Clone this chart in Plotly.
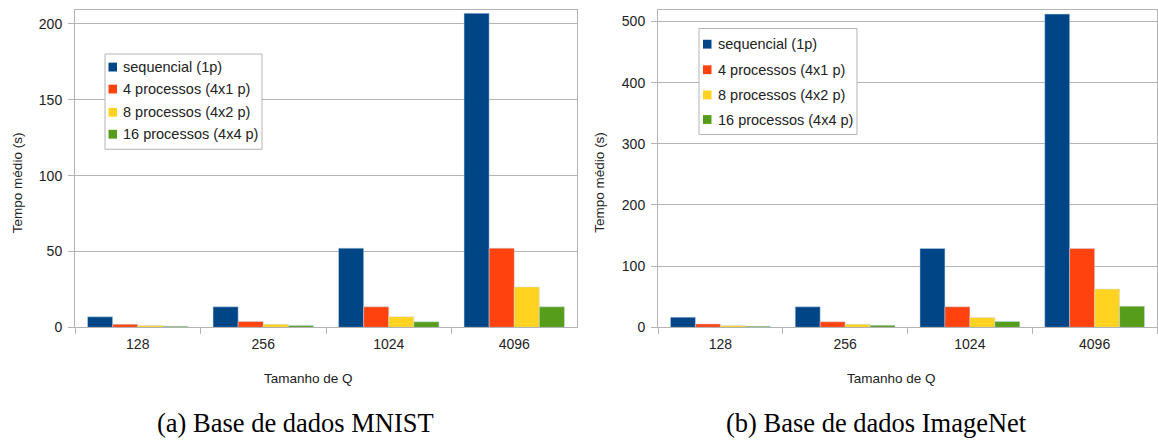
import plotly.graph_objects as go

W, H = 1158, 446

categories = ["128", "256", "1024", "4096"]
series_names = ["sequencial (1p)", "4 processos (4x1 p)", "8 processos (4x2 p)", "16 processos (4x4 p)"]
colors = ["#004586", "#ff420e", "#ffd320", "#579d1c"]

mnist_seq = [6.9, 13.5, 52.2, 207.0]
mnist_4p = [2.0, 3.8, 13.5, 52.2]
mnist_8p = [1.2, 2.0, 7.0, 26.6]
mnist_16p = [0.7, 1.2, 3.6, 13.5]

imagenet_seq = [16.5, 33.5, 129.0, 512.0]
imagenet_4p = [5.5, 9.0, 33.5, 129.0]
imagenet_8p = [2.8, 5.0, 16.0, 62.5]
imagenet_16p = [1.8, 3.2, 9.5, 34.5]

mnist = [mnist_seq, mnist_4p, mnist_8p, mnist_16p]
imagenet = [imagenet_seq, imagenet_4p, imagenet_8p, imagenet_16p]

FONT = "Liberation Sans, Arial, sans-serif"
SERIF = "Liberation Serif, Times New Roman, serif"
TXT = "#222222"
GRID = "#b3b3b3"


def px(x):
    return x / W


def py(y):
    return 1 - y / H


fig = go.Figure()
for i, name in enumerate(series_names):
    fig.add_trace(go.Bar(
        x=categories, y=mnist[i], name=name, marker_color=colors[i],
        marker_line=dict(color="rgba(200,220,240,0.8)", width=0.6),
        xaxis="x", yaxis="y", showlegend=False,
    ))
for i, name in enumerate(series_names):
    fig.add_trace(go.Bar(
        x=categories, y=imagenet[i], name=name, marker_color=colors[i],
        marker_line=dict(color="rgba(200,220,240,0.8)", width=0.6),
        xaxis="x2", yaxis="y2", showlegend=False,
    ))

ybot, ytop = 333.3, 10
xax = dict(type="category", tickson="boundaries", ticks="outside", ticklen=6,
           tickcolor=GRID, showline=True, linecolor=GRID, mirror=True,
           showgrid=False, ticklabelstandoff=4,
           tickfont=dict(family=FONT, size=14, color=TXT))
yax = dict(ticks="outside", ticklen=6, tickcolor=GRID, showline=True,
           linecolor=GRID, mirror=True, showgrid=True, gridcolor=GRID,
           zeroline=False, ticklabelstandoff=3,
           tickfont=dict(family=FONT, size=14, color=TXT))

fig.update_layout(
    width=W, height=H,
    margin=dict(l=0, r=0, t=0, b=0),
    paper_bgcolor="white", plot_bgcolor="white",
    barmode="group", bargap=0.2, bargroupgap=0,
    font=dict(family=FONT, size=13, color=TXT),
    xaxis=dict(xax, domain=[px(75), px(577)], anchor="y"),
    yaxis=dict(yax, domain=[py(ybot), py(ytop)], anchor="x",
               range=[0, 209.3], tickvals=[0, 50, 100, 150, 200]),
    xaxis2=dict(xax, domain=[px(658), px(1157)], anchor="y2"),
    yaxis2=dict(yax, domain=[py(ybot), py(ytop)], anchor="x2",
                range=[0, 519], tickvals=[0, 100, 200, 300, 400, 500]),
)

# custom legends (box, colour squares, labels)
legends = [
    dict(box=(105, 55, 262, 152), rows=[68.3, 90.7, 114.3, 136.7], sq=108.5, tx=121),
    dict(box=(699, 29, 857, 137), rows=[45, 71, 96.7, 121.7], sq=703, tx=715.5),
]
for lg in legends:
    x0, y0, x1, y1 = lg["box"]
    fig.add_shape(type="rect", xref="paper", yref="paper",
                  x0=px(x0), x1=px(x1), y0=py(y1), y1=py(y0),
                  line=dict(color=GRID, width=1), fillcolor="white", layer="above")
    for i, name in enumerate(series_names):
        yc = lg["rows"][i]
        fig.add_shape(type="rect", xref="paper", yref="paper",
                      x0=px(lg["sq"]), x1=px(lg["sq"] + 8.5),
                      y0=py(yc + 4.5), y1=py(yc - 4.5),
                      line=dict(width=0), fillcolor=colors[i], layer="above")
        fig.add_annotation(text=name, x=px(lg["tx"]), y=py(yc), xref="paper", yref="paper",
                           xanchor="left", yanchor="middle", showarrow=False,
                           font=dict(family=FONT, size=14.5, color=TXT))

annots = [
    dict(text="Tempo médio (s)", x=17, y=186.5, textangle=-90, size=13.5, fam=FONT),
    dict(text="Tempo médio (s)", x=600, y=186, textangle=-90, size=13.5, fam=FONT),
    dict(text="Tamanho de Q", x=308, y=385, textangle=0, size=13.5, fam=FONT),
    dict(text="Tamanho de Q", x=891, y=385, textangle=0, size=13.5, fam=FONT),
    dict(text="(a) Base de dados MNIST", x=295, y=431, textangle=0, size=26.5, fam=SERIF),
    dict(text="(b) Base de dados ImageNet", x=876, y=431, textangle=0, size=26.5, fam=SERIF),
]
for a in annots:
    fig.add_annotation(text=a["text"], x=px(a["x"]), y=py(a["y"]), xref="paper", yref="paper",
                       xanchor="center", yanchor="middle", showarrow=False,
                       textangle=a["textangle"],
                       font=dict(family=a["fam"], size=a["size"],
                                 color="#000000" if a["fam"] == SERIF else TXT))

fig.write_html(
    "out.html",
    config={"displayModeBar": False},
    post_script="document.body.style.margin='0';document.body.style.overflow='hidden';",
)
